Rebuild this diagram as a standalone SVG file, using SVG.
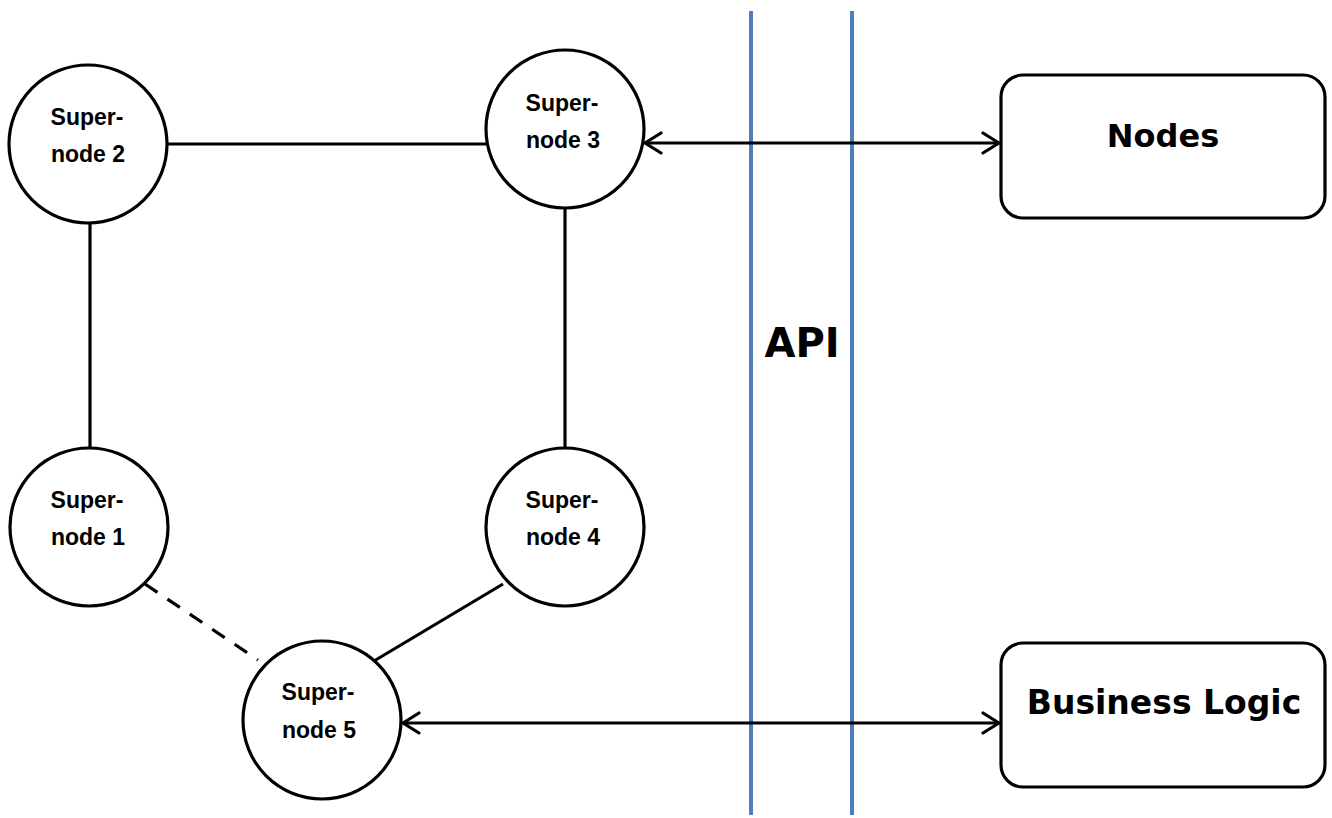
<svg xmlns="http://www.w3.org/2000/svg" width="1332" height="818" viewBox="0 0 1332 818">
  <defs>
    <style>
      .sn circle { fill: #ffffff; stroke: #000000; stroke-width: 3.2; }
      .sn text { font-family: "Liberation Sans", Arial, sans-serif; font-weight: bold; font-size: 23px; fill: #000000; text-anchor: middle; }
      .box rect { fill: #ffffff; stroke: #000000; stroke-width: 3.2; }
      .box text, .label { font-family: "DejaVu Sans", Verdana, sans-serif; font-weight: bold; fill: #000000; text-anchor: middle; }
      .link { stroke: #000000; stroke-width: 3.2; fill: none; }
      .dashed { stroke-dasharray: 15 12; }
      .api { stroke: #4f7fb6; stroke-width: 4; }
    </style>
    <marker id="open-arrow" viewBox="0 0 20 24" refX="18" refY="12" markerWidth="20" markerHeight="24" markerUnits="userSpaceOnUse" orient="auto-start-reverse">
      <path d="M2,2 L18,12 L2,22" fill="none" stroke="#000000" stroke-width="3.2" stroke-linecap="round" stroke-linejoin="round"/>
    </marker>
  </defs>

  <rect width="1332" height="818" fill="#ffffff"/>

  <!-- API boundary -->
  <g id="api">
    <line class="api" x1="751" y1="11" x2="751" y2="815"/>
    <line class="api" x1="852" y1="11" x2="852" y2="815"/>
    <text class="label" x="802" y="357" font-size="40">API</text>
  </g>

  <!-- connectors -->
  <g id="connectors">
    <line class="link" x1="167" y1="144" x2="486" y2="144"/>
    <line class="link" x1="90" y1="223" x2="90" y2="448"/>
    <line class="link" x1="565" y1="208" x2="565" y2="448"/>
    <line class="link dashed" x1="145" y1="584" x2="258" y2="660"/>
    <line class="link" x1="503" y1="584" x2="374" y2="661"/>
    <line class="link" x1="645" y1="143" x2="999" y2="143" marker-start="url(#open-arrow)" marker-end="url(#open-arrow)"/>
    <line class="link" x1="403" y1="723" x2="999" y2="723" marker-start="url(#open-arrow)" marker-end="url(#open-arrow)"/>
  </g>

  <!-- supernodes -->
  <g id="supernode2" class="sn">
    <circle cx="88" cy="144" r="79"/>
    <text x="87" y="125">Super-</text>
    <text x="88" y="162">node 2</text>
  </g>
  <g id="supernode3" class="sn">
    <circle cx="565" cy="129" r="79"/>
    <text x="562" y="111">Super-</text>
    <text x="563" y="148">node 3</text>
  </g>
  <g id="supernode1" class="sn">
    <circle cx="89" cy="527" r="79"/>
    <text x="87" y="508">Super-</text>
    <text x="88" y="545">node 1</text>
  </g>
  <g id="supernode4" class="sn">
    <circle cx="565" cy="527" r="79"/>
    <text x="562" y="508">Super-</text>
    <text x="563" y="545">node 4</text>
  </g>
  <g id="supernode5" class="sn">
    <circle cx="322" cy="720" r="79"/>
    <text x="318" y="700">Super-</text>
    <text x="319" y="738">node 5</text>
  </g>

  <!-- external systems -->
  <g id="nodes" class="box">
    <rect x="1001" y="75" width="324" height="143" rx="22" ry="22"/>
    <text x="1163" y="147" font-size="32">Nodes</text>
  </g>
  <g id="business-logic" class="box">
    <rect x="1001" y="643" width="324" height="144" rx="22" ry="22"/>
    <text x="1164" y="714" font-size="33">Business Logic</text>
  </g>
</svg>
